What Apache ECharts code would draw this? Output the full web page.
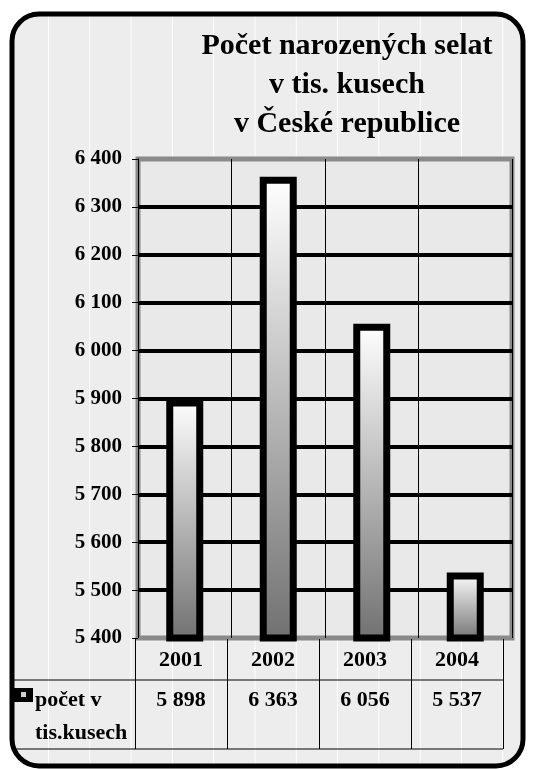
<!DOCTYPE html>
<html>
<head>
<meta charset="utf-8">
<script src="https://cdn.jsdelivr.net/npm/echarts@6/dist/echarts.min.js"></script>
<style>
html,body{margin:0;padding:0;background:#fff;}
#wrap{position:relative;width:533px;height:769px;}
#bg{position:absolute;left:13px;top:15px;width:509px;height:750px;border-radius:25px;
background-color:#ededed;
background-image:linear-gradient(90deg, rgba(255,255,255,0) 0px, rgba(255,255,255,0) 40.3px, rgba(255,255,255,0.95) 40.3px, rgba(255,255,255,0.95) 41.3px);
background-size:41.3px 100%;background-position:-5.3px 0;}
#chart{position:absolute;left:0;top:0;width:533px;height:769px;}
</style>
</head>
<body>
<div id="wrap"><div id="bg"></div><div id="chart"></div></div>
<script>
const titleLines = ['Počet narozených selat', 'v tis. kusech', 'v České republice'];
const categories = ['2001', '2002', '2003', '2004'];
const values = [5898, 6363, 6056, 5537];
const seriesName = 'počet v\ntis.kusech';
const yMin = 5400, yMax = 6400, yStep = 100;

const fmt = v => String(v).replace(/\B(?=(\d{3})+(?!\d))/g, ' ');
const serif = '"Liberation Serif", "Times New Roman", serif';
const cellText = {fontFamily: serif, fontWeight: 'bold', fontSize: 22, lineHeight: 40, color: '#000'};

const chart = echarts.init(document.getElementById('chart'), null, {renderer: 'canvas'});
chart.setOption({
  backgroundColor: 'transparent',
  animation: false,
  title: {
    text: titleLines.join('\n'),
    left: 342, top: 22, textAlign: 'center',
    textStyle: {fontFamily: serif, fontWeight: 'bold', fontSize: 30, lineHeight: 39, color: '#000'}
  },
  grid: [
    {left: 138, right: 21, top: 159, bottom: 131,
     show: true, backgroundColor: '#e9e9e9', borderColor: '#8a8a8a', borderWidth: 5},
    {left: 135, width: 368, top: 639, height: 110, show: false}
  ],
  xAxis: [
    {
      type: 'category', data: categories, gridIndex: 0,
      axisLine: {show: true, lineStyle: {color: '#8a8a8a', width: 1}},
      axisTick: {show: false},
      splitLine: {show: true, lineStyle: {color: '#000', width: 1}},
      axisLabel: {show: false}
    },
    {
      type: 'category', data: categories, gridIndex: 1, position: 'top',
      axisLine: {show: false},
      axisTick: {show: false},
      splitLine: {show: true, lineStyle: {color: '#000', width: 1}},
      axisLabel: {
        inside: true, margin: 1,
        formatter: (v, i) => '{a|' + v + '}\n{b|' + fmt(values[i]) + '}',
        rich: {a: cellText, b: cellText}
      }
    }
  ],
  yAxis: [
    {
      type: 'value', min: yMin, max: yMax, interval: yStep, gridIndex: 0,
      axisLine: {show: true, lineStyle: {color: '#000', width: 1}},
      axisTick: {show: true, length: 6, lineStyle: {color: '#000', width: 1}},
      axisLabel: {margin: 16, formatter: v => fmt(v), fontFamily: serif, fontWeight: 'bold', fontSize: 21, color: '#000'},
      splitLine: {show: true, showMinLine: false, showMaxLine: false, lineStyle: {color: '#000', width: 4}}
    },
    {type: 'value', gridIndex: 1, min: 0, max: 1, show: false}
  ],
  series: [{
    name: seriesName, type: 'bar', data: values, barWidth: 37, xAxisIndex: 0, yAxisIndex: 0,
    itemStyle: {
      color: new echarts.graphic.LinearGradient(0, 0, 0, 1, [
        {offset: 0, color: '#ffffff'}, {offset: 1, color: '#707070'}
      ]),
      borderColor: '#000', borderWidth: 7
    }
  }],
  graphic: [
    {type: 'rect', shape: {x: 12, y: 14, width: 511, height: 752, r: 27},
     style: {fill: 'none', stroke: '#000', lineWidth: 5}, z: 100},
    {type: 'line', shape: {x1: 12, y1: 680, x2: 503, y2: 680}, style: {stroke: '#000', lineWidth: 1}, z: 50},
    {type: 'line', shape: {x1: 12, y1: 749, x2: 503, y2: 749}, style: {stroke: '#000', lineWidth: 1}, z: 50},
    {type: 'rect', shape: {x: 14, y: 688, width: 19, height: 14}, style: {fill: '#000'}, z: 101},
    {type: 'rect', shape: {x: 21, y: 692, width: 5, height: 5}, style: {fill: '#d0d0d0'}, z: 102},
    {type: 'text', left: 35, top: 684, z: 60,
     style: {text: seriesName, fontFamily: serif, fontWeight: 'bold', fontSize: 22, lineHeight: 33, fill: '#000'}}
  ]
});
</script>
</body>
</html>
